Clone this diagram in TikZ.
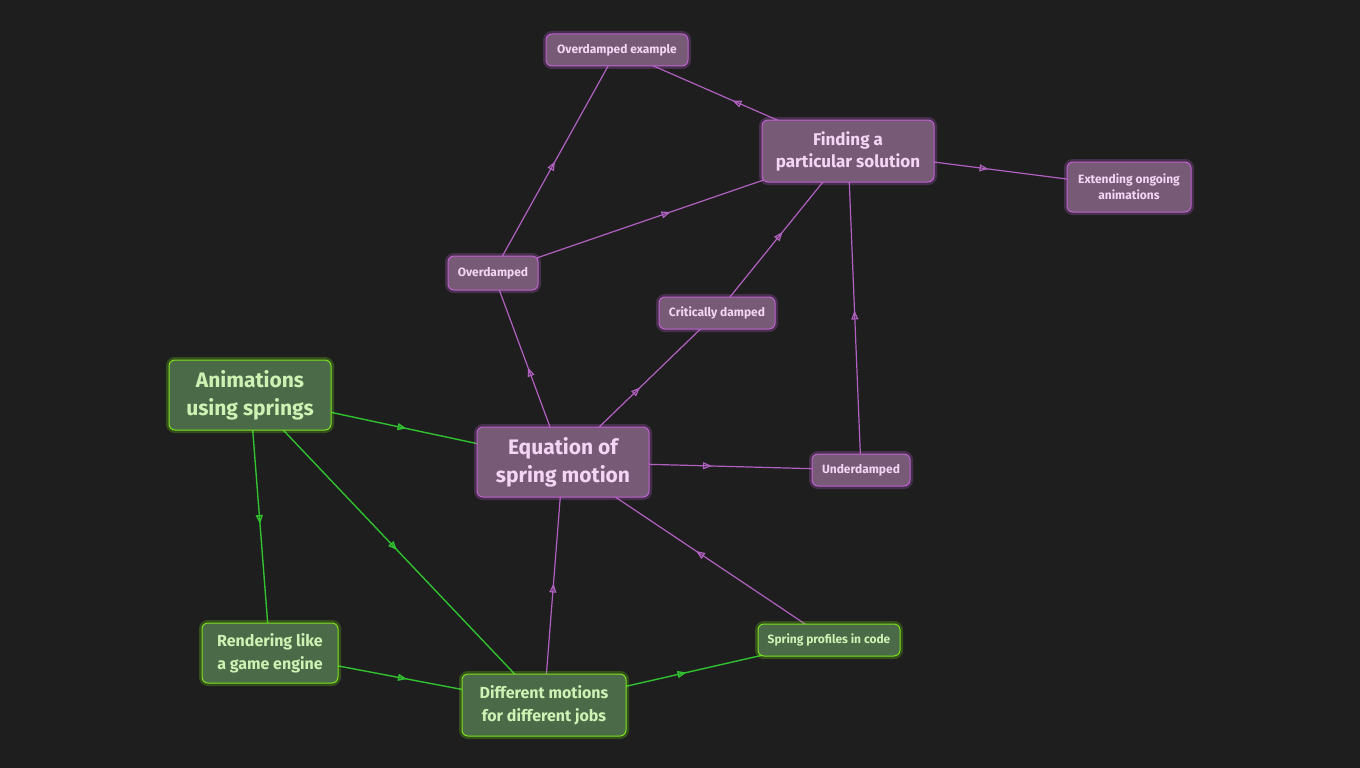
\documentclass[tikz,border=0pt]{standalone}
\usepackage{fontspec}
\setmainfont{Fira Sans}
\usetikzlibrary{arrows.meta,decorations.markings}
\definecolor{bg}{HTML}{1E1E1E}
\definecolor{pfill}{HTML}{765A76}
\definecolor{pglow}{HTML}{C062D0}
\definecolor{ptext}{HTML}{F4D6F4}
\definecolor{gfill}{HTML}{4A6A48}
\definecolor{gglow}{HTML}{7CE020}
\definecolor{gtext}{HTML}{CDF2B4}
\definecolor{pline}{HTML}{B060C0}
\definecolor{gline}{HTML}{30C030}
\begin{document}
\begin{tikzpicture}[x=1pt,y=-1pt,
  box/.style={rounded corners=6pt,align=center,inner sep=0pt,font=\bfseries},
  pn/.style={box,fill=pfill,text=ptext,draw=pglow,line width=1pt,
    preaction={draw=pglow,line width=6pt,opacity=0.25}},
  gn/.style={box,fill=gfill,text=gtext,draw=gglow,line width=1pt,
    preaction={draw=gglow,line width=6pt,opacity=0.25}},
  mid/.style={postaction={decorate},decoration={markings,
    mark=at position 0.5 with {\arrow{Triangle[open,length=9pt,width=7pt]}}}},
  pe/.style={draw=pline,line width=1.2pt,mid},
  ge/.style={draw=gline,line width=1.4pt,mid}]
\fill[bg] (0,0) rectangle (1360,768);
\useasboundingbox (0,0) rectangle (1360,768);
% edges first
\coordinate (cOE) at (617,50);
\coordinate (cF) at (848,151);
\coordinate (cX) at (1129,187);
\coordinate (cO) at (493,273);
\coordinate (cC) at (717,313);
\coordinate (cA) at (250,395);
\coordinate (cE) at (563,462);
\coordinate (cU) at (861,470);
\coordinate (cR) at (270,653);
\coordinate (cS) at (829,640);
\coordinate (cD) at (544,705);
\path[pe] (cF) -- (cOE);
\path[pe] (cO) -- (cOE);
\path[pe] (cO) -- (cF);
\path[pe] (cF) -- (cX);
\path[pe] (cC) -- (cF);
\path[pe] (cU) -- (cF);
\path[pe] (cE) -- (cO);
\path[pe] (cE) -- (cC);
\path[pe] (cE) -- (cU);
\path[pe] (cS) -- (cE);
\path[pe] (cD) -- (cE);
\path[ge] (cA) -- (cE);
\path[ge] (cA) -- (cR);
\path[ge] (cA) -- (cD);
\path[ge] (cR) -- (cD);
\path[ge] (cD) -- (cS);
% nodes
\node[pn,minimum width=142pt,minimum height=32pt,font=\bfseries\fontsize{12}{14}\selectfont] (OE) at (cOE) {Overdamped example};
\node[pn,minimum width=172pt,minimum height=62pt,font=\bfseries\fontsize{17}{22}\selectfont] (F) at (cF) {Finding a\\particular solution};
\node[pn,minimum width=124pt,minimum height=50pt,font=\bfseries\fontsize{12}{16}\selectfont] (X) at (cX) {Extending ongoing\\animations};
\node[pn,minimum width=90pt,minimum height=34pt,font=\bfseries\fontsize{12}{14}\selectfont] (O) at (cO) {Overdamped};
\node[pn,minimum width=116pt,minimum height=32pt,font=\bfseries\fontsize{12}{14}\selectfont] (C) at (cC) {Critically damped};
\node[gn,minimum width=162pt,minimum height=70pt,font=\bfseries\fontsize{21}{28}\selectfont] (A) at (cA) {Animations\\using springs};
\node[pn,minimum width=172pt,minimum height=70pt,font=\bfseries\fontsize{21}{28}\selectfont] (E) at (cE) {Equation of\\spring motion};
\node[pn,minimum width=98pt,minimum height=32pt,font=\bfseries\fontsize{12}{14}\selectfont] (U) at (cU) {Underdamped};
\node[gn,minimum width=136pt,minimum height=60pt,font=\bfseries\fontsize{16}{23}\selectfont] (R) at (cR) {Rendering like\\a game engine};
\node[gn,minimum width=142pt,minimum height=32pt,font=\bfseries\fontsize{12}{14}\selectfont] (S) at (cS) {Spring profiles in code};
\node[gn,minimum width=164pt,minimum height=62pt,font=\bfseries\fontsize{16}{23}\selectfont] (D) at (cD) {Different motions\\for different jobs};
\end{tikzpicture}
\end{document}
